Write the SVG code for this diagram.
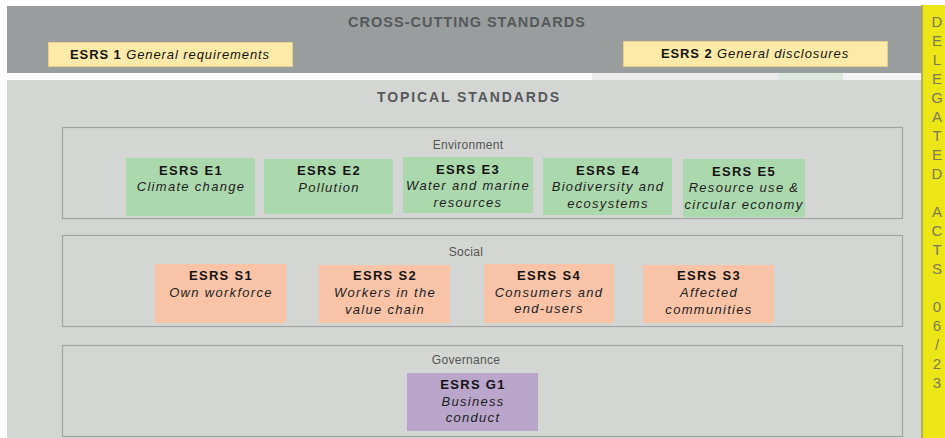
<svg xmlns="http://www.w3.org/2000/svg" width="945" height="438" viewBox="0 0 945 438">
<style>
  .hdr{font-family:"Liberation Sans",Arial,sans-serif;font-weight:bold;fill:#55595b;text-anchor:middle}
  .panel{fill:none;stroke:#a2a4a2;stroke-width:1.2}
  .plabel{font-family:"Liberation Sans",Arial,sans-serif;font-size:12px;fill:#555;text-anchor:middle;letter-spacing:0.3px}
  .code{font-family:"Liberation Sans",Arial,sans-serif;font-size:13px;font-weight:bold;fill:#141414;text-anchor:middle;letter-spacing:1.3px}
  .desc{font-family:"Liberation Sans",Arial,sans-serif;font-size:13px;font-style:italic;fill:#1e1e1e;text-anchor:middle;letter-spacing:1.3px}
  .env{fill:#acd8ae}
  .soc{fill:#f9c3a7}
  .gov{fill:#b9a6ca}
  .cc{fill:#fde9a8;stroke:#e6cf8c;stroke-width:1}
  .cct{font-family:"Liberation Sans",Arial,sans-serif;font-size:13px;fill:#141414;letter-spacing:0.9px;text-anchor:middle}
  .da{font-family:"Liberation Sans",Arial,sans-serif;font-size:15px;fill:#7d7b5a;text-anchor:middle}
</style>
<rect x="0" y="0" width="945" height="438" fill="#ffffff"/>
<!-- cross-cutting band -->
<rect x="7" y="6" width="915" height="67" fill="#9a9d9e"/>
<rect x="592" y="73" width="186" height="7" fill="#ececec"/>
<rect x="778" y="73" width="65" height="7" fill="#dfe8df"/>
<rect x="843" y="73" width="79" height="7" fill="#f4f4f4"/>
<text class="hdr" x="467" y="27" font-size="14.5" letter-spacing="1">CROSS-CUTTING STANDARDS</text>
<g id="esrs1">
  <rect class="cc" x="48.5" y="42.5" width="244" height="24"/>
  <text class="cct" x="170" y="59"><tspan font-weight="bold">ESRS 1</tspan> <tspan font-style="italic">General requirements</tspan></text>
</g>
<g id="esrs2">
  <rect class="cc" x="623.5" y="41.5" width="264" height="25"/>
  <text class="cct" x="755" y="58"><tspan font-weight="bold">ESRS 2</tspan> <tspan font-style="italic">General disclosures</tspan></text>
</g>
<!-- topical area -->
<rect x="7" y="80" width="915" height="358" fill="#d4d6d3"/>
<text class="hdr" x="469" y="102" font-size="14" letter-spacing="1.9">TOPICAL STANDARDS</text>

<g id="environment">
  <rect class="panel" x="62.5" y="127.5" width="840" height="91"/>
  <text class="plabel" x="468" y="148.5">Environment</text>
</g>
<g id="e1">
  <rect class="env" x="126" y="158" width="129" height="58"/>
  <text class="code" x="191" y="174.5">ESRS E1</text>
  <text class="desc" x="191" y="191">Climate change</text>
</g>
<g id="e2">
  <rect class="env" x="264" y="159" width="129" height="55"/>
  <text class="code" x="329" y="175">ESRS E2</text>
  <text class="desc" x="329" y="191.5">Pollution</text>
</g>
<g id="e3">
  <rect class="env" x="403" y="157" width="130" height="56"/>
  <text class="code" x="468" y="173.5">ESRS E3</text>
  <text class="desc" x="468" y="190">Water and marine</text>
  <text class="desc" x="468" y="206.5">resources</text>
</g>
<g id="e4">
  <rect class="env" x="543" y="158" width="129" height="57"/>
  <text class="code" x="608" y="174.5">ESRS E4</text>
  <text class="desc" x="608" y="191">Biodiversity and</text>
  <text class="desc" x="608" y="207.5">ecosystems</text>
</g>
<g id="e5">
  <rect class="env" x="683" y="159" width="122" height="58"/>
  <text class="code" x="744" y="175.5">ESRS E5</text>
  <text class="desc" x="744" y="192">Resource use &amp;</text>
  <text class="desc" x="744" y="208.5">circular economy</text>
</g>

<g id="social">
  <rect class="panel" x="62.5" y="235.5" width="840" height="91"/>
  <text class="plabel" x="466" y="256">Social</text>
</g>
<g id="s1">
  <rect class="soc" x="155" y="264" width="131" height="59"/>
  <text class="code" x="221" y="279.5">ESRS S1</text>
  <text class="desc" x="221" y="296.5">Own workforce</text>
</g>
<g id="s2">
  <rect class="soc" x="319" y="265" width="131" height="58"/>
  <text class="code" x="385" y="280">ESRS S2</text>
  <text class="desc" x="385" y="297">Workers in the</text>
  <text class="desc" x="385" y="313.5">value chain</text>
</g>
<g id="s4">
  <rect class="soc" x="484" y="264" width="130" height="59"/>
  <text class="code" x="549" y="279.5">ESRS S4</text>
  <text class="desc" x="549" y="296.5">Consumers and</text>
  <text class="desc" x="549" y="313">end-users</text>
</g>
<g id="s3">
  <rect class="soc" x="643" y="265" width="131" height="58"/>
  <text class="code" x="709" y="280">ESRS S3</text>
  <text class="desc" x="709" y="297">Affected</text>
  <text class="desc" x="709" y="313.5">communities</text>
</g>

<g id="governance">
  <rect class="panel" x="62.5" y="345.5" width="840" height="91"/>
  <text class="plabel" x="466" y="364">Governance</text>
</g>
<g id="g1">
  <rect class="gov" x="407" y="373" width="131" height="58"/>
  <text class="code" x="473" y="388.5">ESRS G1</text>
  <text class="desc" x="473" y="405.5">Business</text>
  <text class="desc" x="473" y="421.5">conduct</text>
</g>

<g id="connectors"></g>

<g id="delegated-acts">
  <rect x="921.5" y="5" width="24" height="433" fill="#ece617"/>
  <line x1="922" y1="5" x2="922" y2="438" stroke="#8e8c63" stroke-width="1.2"/>
  <text class="da" x="937" y="27">D</text>
  <text class="da" x="937" y="46">E</text>
  <text class="da" x="937" y="65">L</text>
  <text class="da" x="937" y="84">E</text>
  <text class="da" x="937" y="103">G</text>
  <text class="da" x="937" y="122">A</text>
  <text class="da" x="937" y="141">T</text>
  <text class="da" x="937" y="160">E</text>
  <text class="da" x="937" y="179">D</text>
  <text class="da" x="937" y="217">A</text>
  <text class="da" x="937" y="236">C</text>
  <text class="da" x="937" y="255">T</text>
  <text class="da" x="937" y="274">S</text>
  <text class="da" x="937" y="312">0</text>
  <text class="da" x="937" y="331">6</text>
  <text class="da" x="937" y="350">/</text>
  <text class="da" x="937" y="369">2</text>
  <text class="da" x="937" y="388">3</text>
</g>
</svg>
